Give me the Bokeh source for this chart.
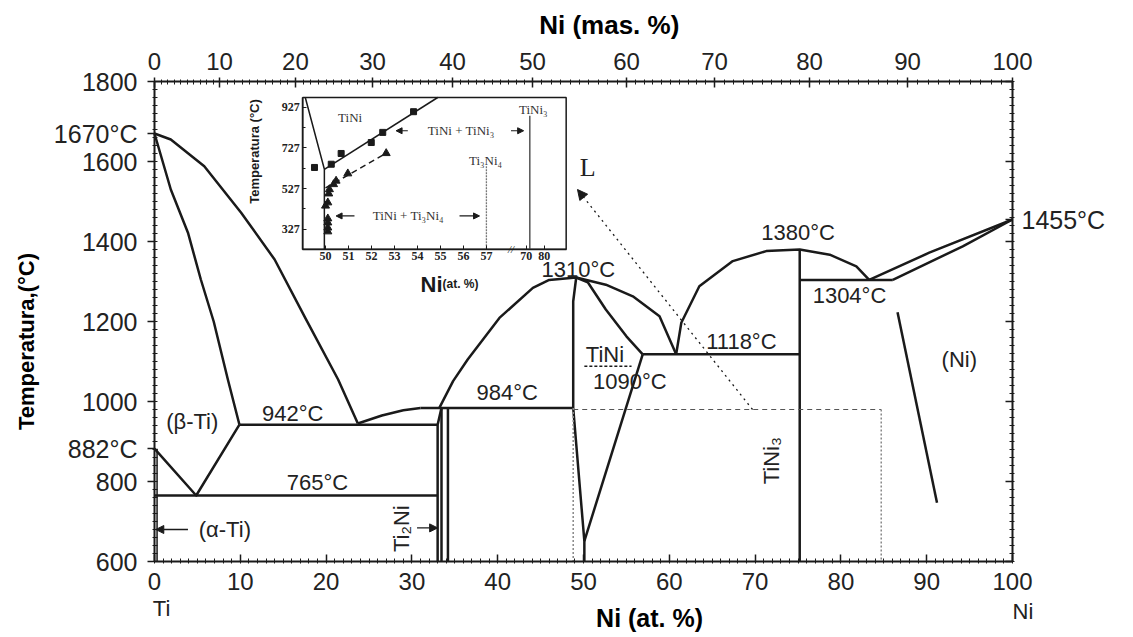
import math
from bokeh.plotting import figure
from bokeh.models import Range1d, LinearAxis, FixedTicker, Label, Arrow, NormalHead
from bokeh.core.properties import value
from bokeh.embed import file_html
from bokeh.resources import INLINE

SANS = "Liberation Sans"
SERIF = "Liberation Serif"
INK = "#1a1a1a"

# ---------------- axis ticks ----------------
at_ticks = list(range(0, 101, 10))
temp_ticks = [600, 800, 1000, 1200, 1400, 1600, 1800]
temp_mark_vals = [882, 1670]
temp_mark_text = ["882°C", "1670°C"]
right_mark_vals = [1455]
right_mark_text = ["1455°C"]
# top axis: mass-% labels placed at their at.% positions
mass_pos = [0, 7.58, 16.43, 25.41, 34.73, 44.06, 55.01, 65.27, 76.34, 87.76, 100]
mass_labels = ["0", "10", "20", "30", "40", "50", "60", "70", "80", "90", "100"]

# ---------------- main diagram curves (x: at.% Ni, t: °C) ----------------
liq_beta_x = [0, 1.9, 5.8, 10.1, 14.0, 17.6, 21.4, 23.7]
liq_beta_t = [1670, 1655, 1588, 1472, 1355, 1208, 1055, 945]
sol_beta_x = [0, 1.9, 3.9, 5.4, 6.9, 8.55, 9.9]
sol_beta_t = [1670, 1530, 1422, 1305, 1200, 1055, 942]
transus_x = [0, 4.86, 9.9]
transus_t = [882, 765, 942]
alpha_x = [0.3, 0.3]
alpha_t = [882, 600]
h942_x = [9.9, 33.0]
h942_t = [942, 942]
h765_x = [0, 33.0]
h765_t = [765, 765]
ti2ni_liq_x = [23.7, 26.5, 29.0, 31.0]
ti2ni_liq_t = [945, 965, 978, 984]
h984_x = [31.0, 48.8]
h984_t = [984, 984]
ti2ni_a_x = [33.0, 33.0, 33.45]
ti2ni_a_t = [600, 942, 984]
ti2ni_b_x = [33.45, 33.45]
ti2ni_b_t = [984, 600]
tini_edge_x = [34.2, 34.2]
tini_edge_t = [984, 600]
tini_liq_x = [33.2, 34.8, 36.5, 40.2, 44.1, 46.0, 49.15, 52.6, 55.75, 58.86, 60.8]
tini_liq_t = [984, 1051, 1105, 1209, 1284, 1304, 1310, 1292, 1263, 1213, 1118]
tini_sol_x = [49.15, 50.5, 52.6, 55.0, 56.9]
tini_sol_t = [1310, 1298, 1230, 1163, 1118]
tini_left_x = [49.15, 48.8, 48.8, 50.1, 50.1]
tini_left_t = [1310, 1250, 984, 651, 600]
tini_right_x = [56.9, 50.1]
tini_right_t = [1118, 651]
h1118_x = [56.9, 75.2]
h1118_t = [1118, 1118]
tini3_liq_x = [60.8, 61.4, 63.5, 67.4, 71.3, 75.2, 78.7, 81.8, 83.3]
tini3_liq_t = [1118, 1197, 1288, 1351, 1376, 1380, 1367, 1338, 1304]
tini3_x = [75.2, 75.2]
tini3_t = [1380, 600]
h1304_x = [75.2, 86.05]
h1304_t = [1304, 1304]
ni_liq_x = [83.3, 90.3, 100]
ni_liq_t = [1304, 1372, 1455]
ni_sol_x = [86.05, 94.2, 100]
ni_sol_t = [1304, 1388, 1455]
ni_solvus_x = [86.6, 91.2]
ni_solvus_t = [1223, 747]
dash_h_x = [48.8, 84.7]
dash_h_t = [980, 980]
dot_v1_x = [84.7, 84.7]
dot_v1_t = [980, 600]
dot_v2_x = [48.8, 48.8]
dot_v2_t = [984, 600]
under_x = [50.1, 55.6]
under_t = [1088, 1088]

# main labels
lbl_x = [4.4, 16.1, 19.0, 8.2, 41.1, 49.4, 52.5, 55.4, 68.4, 75.0, 81.0, 93.8]
lbl_t = [951, 971, 797, 680, 1022, 1330, 1117, 1051, 1151, 1422, 1265, 1105]
lbl_text = ["(β-Ti)", "942°C", "765°C", "(α-Ti)", "984°C", "1310°C", "TiNi",
            "1090°C", "1118°C", "1380°C", "1304°C", "(Ni)"]
rot_x = [28.8, 71.9]
rot_t = [682, 852]
rot_text = ["Ti₂Ni", "TiNi₃"]
l_x = [50.5]
l_t = [1585]
# element labels and axis titles (outside the diagram box)
elem_x = [-0.2, 100.0]
elem_t = [482, 474]
elem_text = ["Ti", "Ni"]
xtitle_x = [57.7]
xtitle_t = [458]
top_title_x = [53.0]
top_title_t = [1942]
ytitle_x = [-14.9]
ytitle_t = [1150]
# arrows: (x_start, t_start, x_end, t_end)
arrow_alpha = [3.9, 680, 0.15, 680]
arrow_ti2ni = [30.6, 684, 33.0, 684]
arrow_liquid = [69.7, 980, 49.3, 1530]

# ---------------- inset (x: at.% Ni on broken axis, t: °C) ----------------
inset_x_lim = [49.01, 60.47]
inset_t_lim = [228, 976]
inset_box_x = [17.28, 47.98]      # where the inset sits, in main at.% units
inset_box_t = [1380.75, 1760]     # where the inset sits, in main °C units


def inset_x(v):
    # broken axis: 50..57 linear, then 70 and 80 compressed after the break
    if v <= 60:
        return v
    return 58.73 + (v - 70) * 0.079


inset_x_ticks = [50, 51, 52, 53, 54, 55, 56, 57, 70, 80]
inset_t_ticks = [327, 527, 727, 927]
inset_t_minor = [427, 627, 827]
sq_x = [49.52, 50.25, 50.68, 51.99, 52.49, 53.83]
sq_t = [631, 647, 700, 754, 804, 906]
tri_x = [52.64, 50.97, 50.46, 50.35, 50.17, 50.14, 50.10, 50.00, 50.10, 50.10, 50.10, 50.10]
tri_t = [701, 601, 565, 548, 523, 502, 458, 442, 379, 359, 334, 315]
in_solvus_x = [49.95, 54.88]
in_solvus_t = [622, 976]
in_left_x = [49.12, 49.95, 49.95]
in_left_t = [976, 622, 228]
in_dash_x = [50.0, 52.7]
in_dash_t = [530, 705]
in_ti3ni4_x = [57, 57]
in_ti3ni4_t = [637, 228]
in_tini3_x = [72, 72]
in_tini3_t = [886, 228]
in_lbl_x = [51.07, 55.9, 56.96, 59.04, 53.6]
in_lbl_t = [878, 812, 664, 919, 392]
in_lbl_text = ["TiNi", "TiNi + TiNi₃", "Ti₃Ni₄", "TiNi₃", "TiNi + Ti₃Ni₄"]
in_arrows = [[53.58, 812, 53.07, 812], [58.07, 812, 58.62, 812],
             [51.26, 392, 50.46, 392], [55.83, 392, 56.70, 392]]

# ---------------- layout: the frame fills the whole canvas ----------------
W, H = 1125, 634
PX0, PX100 = 154, 1012        # canvas px of 0 and 100 at.%
PY1800, PY600 = 81, 561       # canvas px of 1800 and 600 °C
kx = (PX100 - PX0) / 100.0
ky = (PY600 - PY1800) / 1200.0
X0, X1 = 0 - PX0 / kx, 100 + (W - PX100) / kx
Y0, Y1 = 600 - (H - PY600) / ky, 1800 + PY1800 / ky

p = figure(frame_width=W, frame_height=H,
           x_range=Range1d(X0, X1), y_range=Range1d(Y0, Y1),
           x_axis_location=None, y_axis_location=None,
           output_backend="svg", toolbar_location=None,
           min_border=0, background_fill_color="white", border_fill_color="white")
p.outline_line_color = None
p.grid.visible = False


def style_axis(ax, size):
    ax.axis_line_width = 2
    ax.axis_line_color = INK
    ax.major_tick_line_color = INK
    ax.major_tick_line_width = 1.5
    ax.minor_tick_line_color = INK
    ax.minor_tick_line_width = 1
    ax.major_label_text_font = SANS
    ax.major_label_text_font_size = size
    ax.major_label_text_color = "#222"


xa = LinearAxis(fixed_location=600, bounds=(0, 100),
                ticker=FixedTicker(ticks=at_ticks, minor_ticks=list(range(0, 101))))
style_axis(xa, "24px")
xa.major_tick_in = 7
xa.major_tick_out = 0
xa.minor_tick_in = 3
xa.minor_tick_out = 2
xa.major_label_standoff = 9
p.add_layout(xa, "below")

ya = LinearAxis(fixed_location=0, bounds=(600, 1800),
                ticker=FixedTicker(ticks=temp_ticks + temp_mark_vals,
                                   minor_ticks=list(range(600, 1801, 20))))
ya.major_label_overrides = {v: t for v, t in zip(temp_mark_vals, temp_mark_text)}
style_axis(ya, "25px")
ya.major_tick_in = 0
ya.major_tick_out = 7
ya.minor_tick_in = 3
ya.minor_tick_out = 2
ya.major_label_standoff = 10
p.add_layout(ya, "left")

ra = LinearAxis(fixed_location=100, bounds=(600, 1800),
                ticker=FixedTicker(ticks=temp_ticks + right_mark_vals,
                                   minor_ticks=list(range(600, 1801, 20))))
ra.major_label_overrides = {**{v: "" for v in temp_ticks},
                            **{v: t for v, t in zip(right_mark_vals, right_mark_text)}}
style_axis(ra, "25px")
ra.major_tick_in = 7
ra.major_tick_out = 0
ra.minor_tick_in = 3
ra.minor_tick_out = 2
ra.major_label_standoff = 7
p.add_layout(ra, "right")

mass_minor = []
for i in range(len(mass_pos) - 1):
    for k in range(1, 10):
        mass_minor.append(mass_pos[i] + (mass_pos[i + 1] - mass_pos[i]) * k / 10)
ta = LinearAxis(fixed_location=1800, bounds=(0, 100),
                ticker=FixedTicker(ticks=mass_pos, minor_ticks=mass_minor))
ta.major_label_overrides = {v: t for v, t in zip(mass_pos, mass_labels)}
style_axis(ta, "24px")
ta.major_tick_in = 6
ta.major_tick_out = 4
ta.minor_tick_in = 3
ta.minor_tick_out = 2
ta.major_label_standoff = 8
p.add_layout(ta, "above")

# ---------------- main curves ----------------
solid_curves = [
    (liq_beta_x, liq_beta_t), (sol_beta_x, sol_beta_t), (transus_x, transus_t),
    (h942_x, h942_t), (h765_x, h765_t), (ti2ni_liq_x, ti2ni_liq_t), (h984_x, h984_t),
    (ti2ni_a_x, ti2ni_a_t), (ti2ni_b_x, ti2ni_b_t), (tini_edge_x, tini_edge_t),
    (tini_liq_x, tini_liq_t), (tini_sol_x, tini_sol_t), (tini_left_x, tini_left_t),
    (tini_right_x, tini_right_t), (h1118_x, h1118_t), (tini3_liq_x, tini3_liq_t),
    (tini3_x, tini3_t), (h1304_x, h1304_t), (ni_liq_x, ni_liq_t), (ni_sol_x, ni_sol_t),
    (ni_solvus_x, ni_solvus_t),
]
for cx, ct in solid_curves:
    p.line(cx, ct, line_color=INK, line_width=2.5, line_join="round")
p.line(alpha_x, alpha_t, line_color=INK, line_width=1.5)
p.line(dash_h_x, dash_h_t, line_color="#555", line_width=1.2, line_dash="5 4")
p.line(dot_v1_x, dot_v1_t, line_color="#888", line_width=1.5, line_dash="2 2")
p.line(dot_v2_x, dot_v2_t, line_color="#888", line_width=1.5, line_dash="2 2")
p.line(under_x, under_t, line_color=INK, line_width=1.4, line_dash="3 2")

p.text(lbl_x, lbl_t, text=lbl_text, text_font=value(SANS), text_font_size="22px",
       text_align="center", text_baseline="middle", text_color="#222")
p.text(rot_x, rot_t, text=rot_text, angle=math.pi / 2, text_font=value(SANS),
       text_font_size="22px", text_align="center", text_baseline="middle", text_color="#222")
p.text(l_x, l_t, text=["L"], text_font=value(SERIF), text_font_size="26px",
       text_align="center", text_baseline="middle", text_color="#222")

# titles and element names
p.text(elem_x, elem_t, text=elem_text, text_font=value(SANS), text_font_size="22px",
       text_align="left", text_baseline="middle", text_color="#222")
p.text(xtitle_x, xtitle_t, text=["Ni (at. %)"], text_font=value(SANS),
       text_font_size="25px", text_font_style="bold", text_align="center",
       text_baseline="middle", text_color="black")
p.text(top_title_x, top_title_t, text=["Ni (mas. %)"], text_font=value(SANS),
       text_font_size="26px", text_font_style="bold", text_align="center",
       text_baseline="middle", text_color="black")
p.text(ytitle_x, ytitle_t, text=["Temperatura,(°C)"], angle=math.pi / 2,
       text_font=value(SANS), text_font_size="22px", text_font_style="bold",
       text_align="center", text_baseline="middle", text_color="black")

for a, dash, size in [(arrow_alpha, "solid", 8), (arrow_ti2ni, "solid", 8),
                      (arrow_liquid, "dotted", 10)]:
    p.add_layout(Arrow(x_start=a[0], y_start=a[1], x_end=a[2], y_end=a[3],
                       line_color=INK, line_width=1.3, line_dash=dash,
                       end=NormalHead(size=size, fill_color=INK, line_color=INK)))

# ---------------- inset ----------------
sx = (inset_box_x[1] - inset_box_x[0]) / (inset_x_lim[1] - inset_x_lim[0])
st = (inset_box_t[1] - inset_box_t[0]) / (inset_t_lim[1] - inset_t_lim[0])
p.extra_x_ranges = {"ix": Range1d(inset_x_lim[0] - (inset_box_x[0] - X0) / sx,
                                  inset_x_lim[0] + (X1 - inset_box_x[0]) / sx)}
p.extra_y_ranges = {"iy": Range1d(inset_t_lim[0] - (inset_box_t[0] - Y0) / st,
                                  inset_t_lim[0] + (Y1 - inset_box_t[0]) / st)}
IR = dict(x_range_name="ix", y_range_name="iy")

p.quad(left=[inset_x_lim[0]], right=[inset_x_lim[1]], bottom=[inset_t_lim[0]],
       top=[inset_t_lim[1]], fill_color="white", line_color=INK, line_width=1.5, **IR)

p.line(in_solvus_x, in_solvus_t, line_color=INK, line_width=1.5, **IR)
p.line(in_left_x, in_left_t, line_color=INK, line_width=1.5, **IR)
p.line(in_dash_x, in_dash_t, line_color=INK, line_width=1.5, line_dash="6 4", **IR)
p.line(in_ti3ni4_x, in_ti3ni4_t, line_color="#777", line_width=1.3, line_dash="2 1", **IR)
p.line([inset_x(v) for v in in_tini3_x], in_tini3_t, line_color="#555", line_width=1.5, **IR)
p.scatter(sq_x, sq_t, marker="square", size=6, fill_color=INK, line_color=INK, **IR)
p.scatter(tri_x, tri_t, marker="triangle", size=8, fill_color=INK, line_color=INK, **IR)

p.text(in_lbl_x, in_lbl_t, text=in_lbl_text, text_font=value(SERIF), text_font_size="13px",
       text_align="center", text_baseline="middle", text_color="#333", **IR)
for a in in_arrows:
    p.add_layout(Arrow(x_start=a[0], y_start=a[1], x_end=a[2], y_end=a[3],
                       line_color=INK, line_width=1.2,
                       end=NormalHead(size=6, fill_color=INK, line_color=INK), **IR))

inset_x_disp = [inset_x(v) for v in inset_x_ticks]
ila = LinearAxis(fixed_location=inset_x_lim[0], bounds=(inset_t_lim[0], inset_t_lim[1]),
                 ticker=FixedTicker(ticks=inset_t_ticks, minor_ticks=inset_t_minor), **IR)
iba = LinearAxis(fixed_location=inset_t_lim[0], bounds=(inset_x_lim[0], inset_x_lim[1]),
                 ticker=FixedTicker(ticks=inset_x_disp), **IR)
iba.major_label_overrides = {d: str(v) for d, v in zip(inset_x_disp, inset_x_ticks)}
for ax in (ila, iba):
    ax.axis_line_width = 1.5
    ax.axis_line_color = INK
    ax.major_tick_in = 4
    ax.major_tick_out = 0
    ax.minor_tick_in = 3
    ax.minor_tick_out = 0
    ax.major_tick_line_color = INK
    ax.minor_tick_line_color = INK
    ax.major_label_text_font = SERIF
    ax.major_label_text_font_style = "bold"
    ax.major_label_text_font_size = "12px"
    ax.major_label_text_color = "#222"
    ax.major_label_standoff = 3
p.add_layout(ila, "left")
p.add_layout(iba, "below")

p.text([57.0 + 1.07], [inset_t_lim[0]], text=["//"], text_font=value(SERIF),
       text_font_size="11px", text_font_style="italic", text_align="center",
       text_baseline="middle", text_color="#222", **IR)
p.add_layout(Label(x=46.91, y=709.7, text="Temperatura (°C)", angle=math.pi / 2,
                   text_align="center", text_baseline="middle", text_font=SANS,
                   text_font_size="13px", text_font_style="bold", text_color=INK,
                   background_fill_color="white", **IR))
p.text([55.09], [54.4], text=["Ni"], text_font=value(SANS), text_font_size="22px",
       text_font_style="bold", text_align="right", text_baseline="alphabetic",
       text_color=INK, **IR)
p.text([55.09], [54.4], text=["(at. %)"], text_font=value(SANS), text_font_size="12px",
       text_font_style="bold", text_align="left", text_baseline="alphabetic",
       text_color=INK, **IR)

open("out.html", "w").write(file_html(p, INLINE))
